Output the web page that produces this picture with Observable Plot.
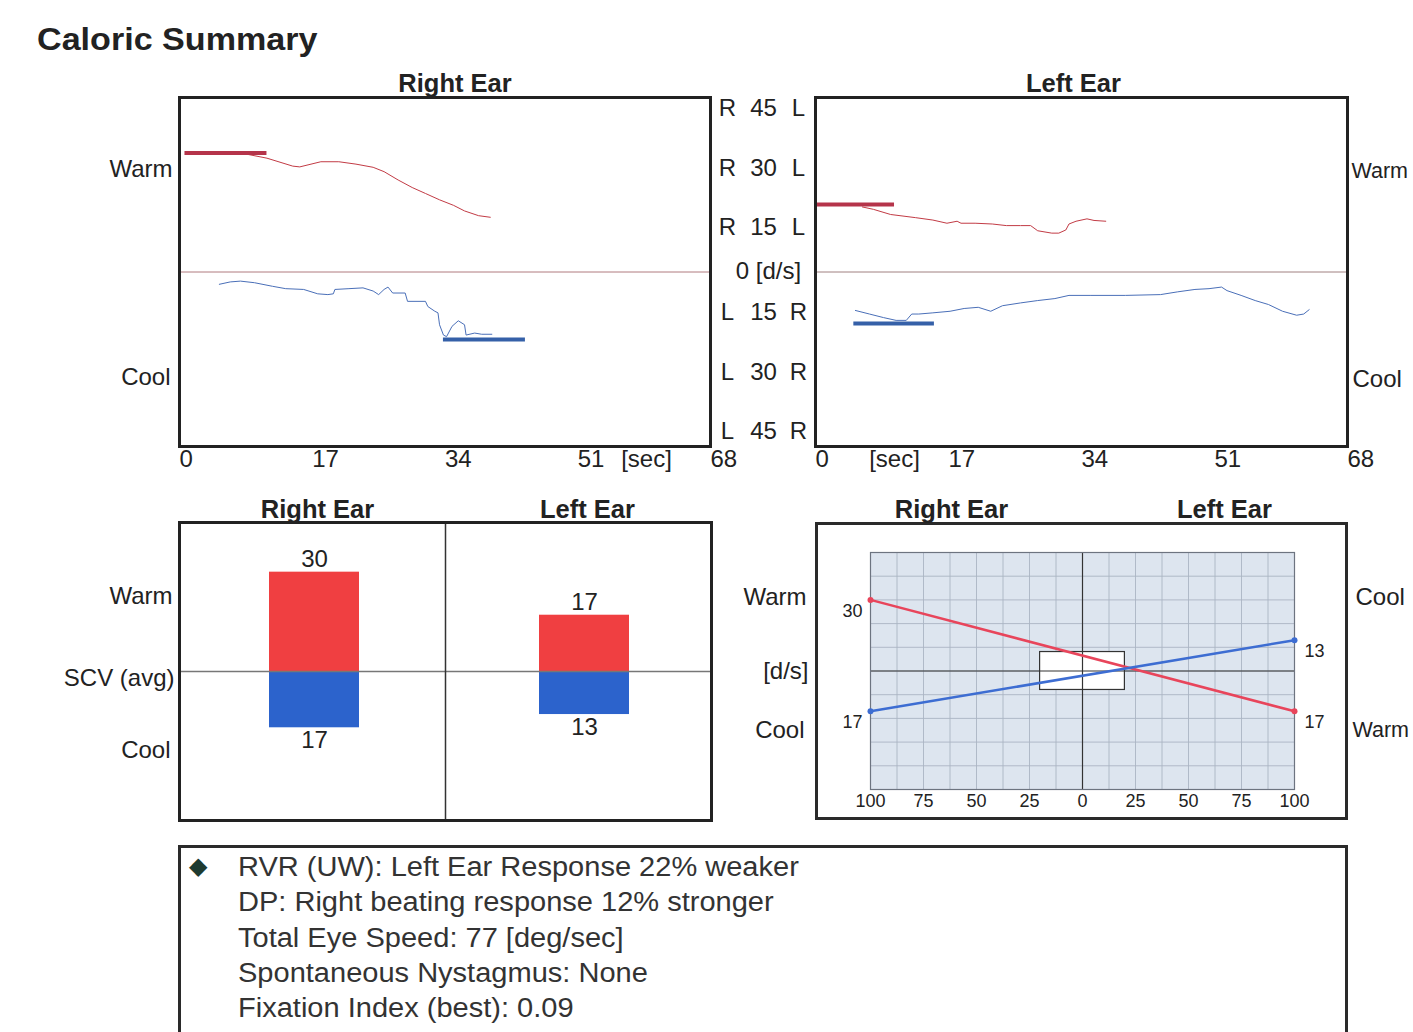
<!DOCTYPE html>
<html><head><meta charset="utf-8">
<script src="https://cdn.jsdelivr.net/npm/d3@7"></script>
<script src="https://cdn.jsdelivr.net/npm/@observablehq/plot@0.6"></script>
<style>
html,body{margin:0;padding:0;background:#fff;overflow:hidden;}
#page{position:relative;width:1413px;height:1032px;font-family:"Liberation Sans",Arial,sans-serif;color:#222;overflow:hidden;}
.abs{position:absolute;}
#title{left:37px;top:22px;font-size:31px;line-height:36px;font-weight:bold;color:#222;transform:scaleX(1.1);transform-origin:0 0;white-space:nowrap;}
.box{box-sizing:border-box;border:3px solid #2a2a2a;}
#summary{left:178px;top:845px;width:1170px;height:210px;padding:2px 0 0 57px;}
#summary div{font-size:27px;line-height:35.3px;color:#333;transform:scaleX(1.075);transform-origin:0 50%;white-space:nowrap;}
#diamond{left:189px;top:851px;font-size:24px;line-height:30px;color:#1e3b30;}
</style></head><body><div id="page"></div>
<script>
// ---------- data ----------
const ears = ["Right Ear", "Left Ear"];
const scvWarm = [30, 17];          // slow component velocity, warm irrigation [d/s]
const scvCool = [17, 13];          // slow component velocity, cool irrigation [d/s]
const timeTicks = [0, 17, 34, 51, 68];
const speedTicksPos = [45, 30, 15];
const speedTicksNeg = [-15, -30, -45];
const rvrTicks = [-100, -75, -50, -25, 0, 25, 50, 75, 100];
const rvrGrid = d3.range(-100, 100.01, 12.5);
const speedGrid = d3.range(-50, 50.01, 10);
const rvrExtent = [-100, 100];
const normX = [-20, 20];
const normY = [-8, 8];
// averaging windows [sec]
const rightWarmWindow = [0.7, 11.2];
const rightCoolWindow = [33.8, 44.3];
const leftWarmWindow = [0.2, 10.1];
const leftCoolWindow = [4.9, 15.2];
// traces [sec, d/s]
const rightWarmTrace = [[8.1,29.9],[11.2,28.7],[14.5,26.7],[15.4,26.5],[18.1,27.8],[20.4,27.8],[22.6,27.2],[24.8,26.4],[26.2,25.3],[28.0,23.2],[29.8,21.3],[31.5,19.8],[33.3,18.2],[35.1,16.8],[36.5,15.4],[38.3,14.2],[39.8,13.8]];
const rightCoolTrace = [[5.1,-3.1],[6.5,-2.5],[7.8,-2.3],[9.6,-2.7],[11.9,-3.6],[13.6,-4.2],[15.9,-4.4],[17.7,-5.5],[19.0,-5.7],[19.7,-5.5],[19.9,-4.4],[21.7,-4.2],[23.5,-4.0],[24.8,-4.8],[25.5,-5.7],[26.2,-4.4],[26.7,-3.8],[27.3,-5.3],[28.9,-5.3],[29.2,-7.4],[31.5,-7.4],[31.8,-8.7],[32.7,-9.9],[33.1,-10.3],[33.3,-13.3],[33.8,-15.9],[34.2,-16.3],[34.9,-13.7],[35.7,-12.3],[36.5,-13.3],[36.7,-15.9],[37.8,-15.4],[38.7,-15.7],[40.0,-15.7]];
const leftWarmTrace = [[6.0,16.4],[7.4,15.8],[9.6,14.5],[12.8,13.7],[15.0,13.1],[16.8,12.3],[18.1,12.8],[18.6,12.3],[20.4,12.3],[22.6,12.1],[24.4,11.7],[26.2,11.7],[27.5,11.7],[28.4,10.4],[30.2,9.8],[31.1,9.8],[32.0,10.6],[32.4,12.1],[33.3,12.8],[34.7,13.4],[35.6,13.0],[37.1,12.8]];
const leftCoolTrace = [[5.1,-9.7],[6.9,-10.6],[8.7,-11.5],[10.3,-12.2],[11.6,-12.2],[12.3,-10.6],[13.2,-10.6],[15.0,-10.3],[17.2,-9.9],[19.0,-9.2],[20.8,-8.9],[22.4,-9.9],[23.9,-8.5],[26.2,-7.8],[28.4,-7.2],[30.6,-6.7],[32.4,-5.9],[35.1,-5.9],[39.6,-5.9],[44.1,-5.7],[46.3,-5.0],[48.5,-4.4],[50.3,-4.2],[51.9,-3.8],[52.6,-4.7],[54.4,-5.9],[56.2,-7.2],[57.9,-8.2],[59.7,-9.9],[61.5,-10.9],[62.4,-10.6],[63.1,-9.5]];
const summaryLines = [
  "RVR (UW): Left Ear Response 22% weaker",
  "DP: Right beating response 12% stronger",
  "Total Eye Speed: 77 [deg/sec]",
  "Spontaneous Nystagmus: None",
  "Fixation Index (best): 0.09"
];

// ---------- styles ----------
const FONT = "Liberation Sans, Arial, sans-serif";
const traceRed = "#c23b45", thickRed = "#b5344a";
const traceBlue = "#4a6fb8", thickBlue = "#3560a8";
const barRed = "#f03f41", barBlue = "#2c63cc";
const lineRed = "#e8455b", lineBlue = "#3d6dd2";
const INK = "#222";
const LBL = 24, TTL = 25.5, SMALL = 18, EDGE = 21.5;
const baseStyle = {fontFamily: FONT, fontSize: "22px", color: INK, overflow: "visible", background: "transparent"};
const page = document.getElementById("page");
function place(el, left, top) {
  el.style.position = "absolute"; el.style.left = left + "px"; el.style.top = top + "px";
  page.appendChild(el);
}
function div(id, cls, html) {
  const d = document.createElement("div"); d.id = id; d.className = cls; d.innerHTML = html; page.appendChild(d); return d;
}
div("title", "abs", "Caloric Summary");
div("outerD", "abs box", "").setAttribute("style", "left:815px;top:522px;width:533px;height:298px;");
div("summary", "abs box", summaryLines.map(s => `<div>${s}</div>`).join(""));
div("diamond", "abs", "◆");

const ptX = d => d[0], ptY = d => d[1];
const win = (w, v) => [{a: w[0], b: w[1], v}];
const yTime = {domain: [-44, 44]};
// a text mark whose anchors are always explicit (frameAnchor would otherwise change them)
const T = (data, o) => Plot.text(data, {textAnchor: "middle", lineAnchor: "middle", fill: INK, fontSize: LBL, ...o});
const label = (s, o) => T([s], {text: d => d, ...o});

// ---------- A: right ear traces ----------
const plotA = Plot.plot({
  width: 720, height: 420, marginLeft: 179, marginRight: 10, marginTop: 37, marginBottom: 34,
  style: baseStyle,
  x: {domain: [0, 68], axis: null}, y: {...yTime, axis: null},
  marks: [
    Plot.ruleY([0], {stroke: "#b07a7e", strokeWidth: 1}),
    Plot.line(rightWarmTrace, {x: ptX, y: ptY, stroke: traceRed, strokeWidth: 1}),
    Plot.line(rightCoolTrace, {x: ptX, y: ptY, stroke: traceBlue, strokeWidth: 1}),
    Plot.ruleY(win(rightWarmWindow, scvWarm[0]), {x1: "a", x2: "b", y: "v", stroke: thickRed, strokeWidth: 4}),
    Plot.ruleY(win(rightCoolWindow, -scvCool[0]), {x1: "a", x2: "b", y: "v", stroke: thickBlue, strokeWidth: 4}),
    Plot.frame({stroke: INK, strokeWidth: 3}),
    T(timeTicks, {x: d => d, text: d => String(d), frameAnchor: "bottom", dy: 13, textAnchor: "start"}),
    label("[sec]", {frameAnchor: "bottom-right", dx: -64, dy: 13}),
    label(ears[0], {frameAnchor: "top", dx: 10, dy: -14, fontSize: TTL, fontWeight: "bold"}),
    label("Warm", {frameAnchor: "left", dx: -7, dy: -103, textAnchor: "end"}),
    label("Cool", {frameAnchor: "left", dx: -9, dy: 105, textAnchor: "end"})
  ]
});
place(plotA, 0, 60);

// ---------- B: left ear traces ----------
const numTxt = d => String(Math.abs(d));
const plotB = Plot.plot({
  width: 693, height: 420, marginLeft: 95, marginRight: 66, marginTop: 37, marginBottom: 34,
  style: baseStyle,
  x: {domain: [0, 68], axis: null}, y: {...yTime, axis: null},
  marks: [
    Plot.ruleY([0], {stroke: "#a08080", strokeWidth: 1}),
    Plot.line(leftWarmTrace, {x: ptX, y: ptY, stroke: traceRed, strokeWidth: 1}),
    Plot.line(leftCoolTrace, {x: ptX, y: ptY, stroke: traceBlue, strokeWidth: 1}),
    Plot.ruleY(win(leftWarmWindow, scvWarm[1]), {x1: "a", x2: "b", y: "v", stroke: thickRed, strokeWidth: 4}),
    Plot.ruleY(win(leftCoolWindow, -scvCool[1]), {x1: "a", x2: "b", y: "v", stroke: thickBlue, strokeWidth: 4}),
    Plot.frame({stroke: INK, strokeWidth: 3}),
    T(timeTicks, {x: d => d, text: d => String(d), frameAnchor: "bottom", dy: 13, textAnchor: "start"}),
    label("[sec]", {frameAnchor: "bottom-left", dx: 79, dy: 13}),
    label(ears[1], {frameAnchor: "top", dx: -8, dy: -14, fontSize: TTL, fontWeight: "bold"}),
    label("Warm", {frameAnchor: "right", dx: 4, dy: -101, textAnchor: "start", fontSize: EDGE}),
    label("Cool", {frameAnchor: "right", dx: 5, dy: 107, textAnchor: "start"}),
    // shared speed scale labels between the two panels
    T(speedTicksPos, {y: d => d, text: () => "R", frameAnchor: "left", dx: -88, dy: 15}),
    T(speedTicksPos, {y: d => d, text: numTxt, frameAnchor: "left", dx: -52, dy: 15}),
    T(speedTicksPos, {y: d => d, text: () => "L", frameAnchor: "left", dx: -17, dy: 15}),
    T(speedTicksNeg, {y: d => d, text: () => "L", frameAnchor: "left", dx: -88, dy: -19}),
    T(speedTicksNeg, {y: d => d, text: numTxt, frameAnchor: "left", dx: -52, dy: -19}),
    T(speedTicksNeg, {y: d => d, text: () => "R", frameAnchor: "left", dx: -17, dy: -19}),
    T([0], {y: d => d, text: () => "0 [d/s]", frameAnchor: "left", dx: -47, dy: -1})
  ]
});
place(plotB, 720, 60);

// ---------- C: SCV bars ----------
const barData = ears.map((ear, i) => ({ear, warm: scvWarm[i], cool: scvCool[i]}));
const plotC = Plot.plot({
  width: 720, height: 360, marginLeft: 179, marginRight: 9, marginTop: 42, marginBottom: 20,
  style: baseStyle,
  x: {domain: ears, range: [178, 719], paddingInner: 0.667, paddingOuter: 0.3335, axis: null},
  y: {domain: [-45, 45], axis: null},
  marks: [
    Plot.barY(barData, {x: "ear", y: "warm", fill: barRed}),
    Plot.barY(barData, {x: "ear", y: d => -d.cool, fill: barBlue}),
    Plot.ruleY([0], {stroke: "#777", strokeWidth: 1.5}),
    Plot.ruleX([ears[1]], {x: d => d, dx: -139, stroke: "#333", strokeWidth: 1.5}),
    Plot.frame({stroke: INK, strokeWidth: 3}),
    T(barData, {x: "ear", y: "warm", text: d => String(d.warm), dy: -13}),
    T(barData, {x: "ear", y: d => -d.cool, text: d => String(d.cool), dy: 13}),
    T(barData, {x: "ear", text: "ear", frameAnchor: "top", dy: -13, dx: 3, fontSize: TTL, fontWeight: "bold"}),
    label("Warm", {frameAnchor: "left", dx: -7, dy: -75, textAnchor: "end"}),
    label("SCV (avg)", {frameAnchor: "left", dx: -5, dy: 7, textAnchor: "end"}),
    label("Cool", {frameAnchor: "left", dx: -9, dy: 79, textAnchor: "end"})
  ]
});
place(plotC, 0, 480);

// ---------- D: butterfly (RVR / DP) diagram ----------
const warmLine = [{x: rvrExtent[0], y: scvWarm[0], v: scvWarm[0]}, {x: rvrExtent[1], y: -scvWarm[1], v: scvWarm[1]}];
const coolLine = [{x: rvrExtent[0], y: -scvCool[0], v: scvCool[0]}, {x: rvrExtent[1], y: scvCool[1], v: scvCool[1]}];
const endLabels = [...warmLine, ...coolLine];
const plotD = Plot.plot({
  width: 693, height: 360, marginLeft: 150, marginRight: 119, marginTop: 72, marginBottom: 51,
  style: baseStyle,
  x: {domain: [-100, 100], axis: null}, y: {domain: [-50, 50], axis: null},
  marks: [
    Plot.frame({fill: "#dde5ef", stroke: "#8a93a0", strokeWidth: 1}),
    Plot.ruleX(rvrGrid, {stroke: "#aab4c3", strokeWidth: 0.9}),
    Plot.ruleY(speedGrid, {stroke: "#aab4c3", strokeWidth: 0.9}),
    Plot.rect([{x1: normX[0], x2: normX[1], y1: normY[0], y2: normY[1]}], {x1: "x1", x2: "x2", y1: "y1", y2: "y2", fill: "white", stroke: "#333", strokeWidth: 1.2}),
    Plot.ruleX([0], {stroke: "#333", strokeWidth: 1.2}),
    Plot.ruleY([0], {stroke: "#333", strokeWidth: 1.2}),
    Plot.frame({stroke: "#6d7480", strokeWidth: 1.2}),
    Plot.line(warmLine, {x: "x", y: "y", stroke: lineRed, strokeWidth: 2.5}),
    Plot.line(coolLine, {x: "x", y: "y", stroke: lineBlue, strokeWidth: 2.5}),
    Plot.dot(warmLine, {x: "x", y: "y", fill: lineRed, r: 3}),
    Plot.dot(coolLine, {x: "x", y: "y", fill: lineBlue, r: 3}),
    T(endLabels.filter(d => d.x < 0), {x: "x", y: "y", text: d => String(d.v), dx: -18, dy: 11, fontSize: SMALL}),
    T(endLabels.filter(d => d.x > 0), {x: "x", y: "y", text: d => String(d.v), dx: 20, dy: 11, fontSize: SMALL}),
    T(rvrTicks, {x: d => d, text: d => String(Math.abs(d)), frameAnchor: "bottom", dy: 12, fontSize: SMALL}),
    label(ears[0], {frameAnchor: "top-left", dx: 81, dy: -43, fontSize: TTL, fontWeight: "bold"}),
    label(ears[1], {frameAnchor: "top-right", dx: -70, dy: -43, fontSize: TTL, fontWeight: "bold"}),
    label("Warm", {frameAnchor: "left", dx: -64, dy: -74, textAnchor: "end"}),
    label("[d/s]", {frameAnchor: "left", dx: -62, dy: 0, textAnchor: "end"}),
    label("Cool", {frameAnchor: "left", dx: -66, dy: 59, textAnchor: "end"}),
    label("Cool", {frameAnchor: "right", dx: 61, dy: -74, textAnchor: "start"}),
    label("Warm", {frameAnchor: "right", dx: 58, dy: 59, textAnchor: "start", fontSize: EDGE})
  ]
});
place(plotD, 720, 480);
</script></body></html>
